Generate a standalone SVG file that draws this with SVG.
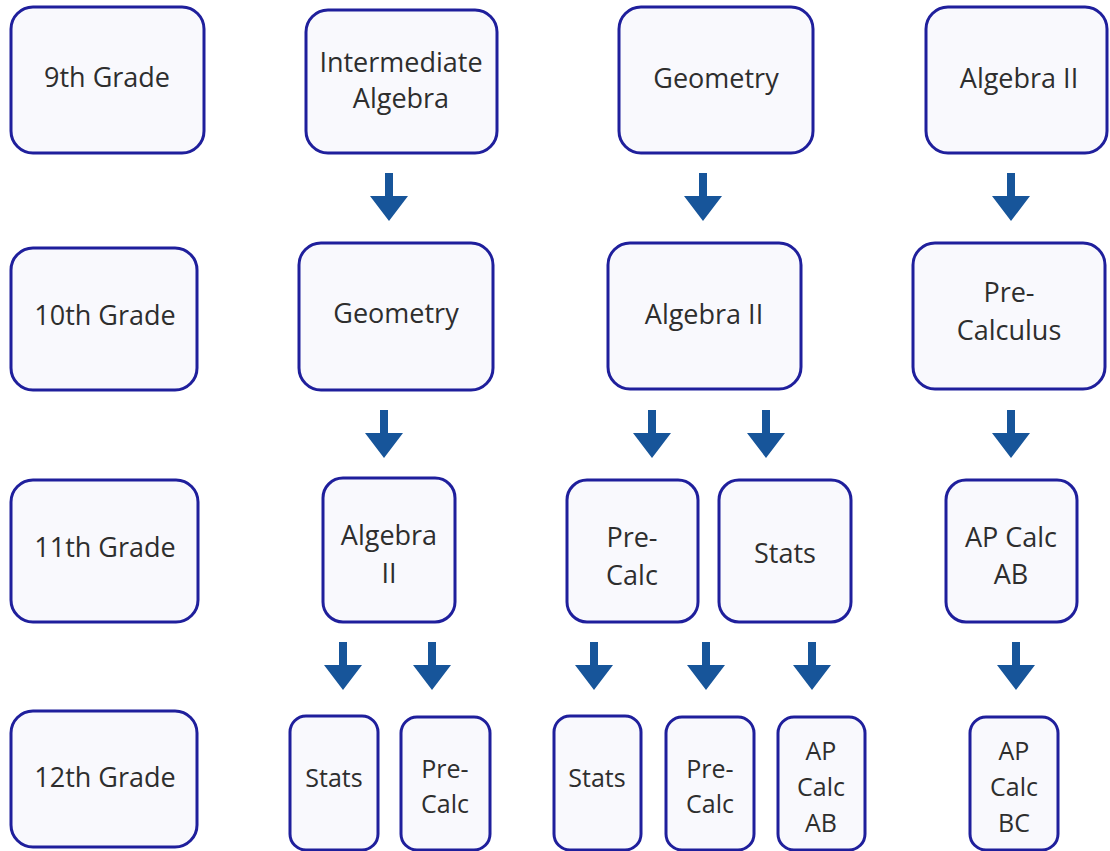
<svg xmlns="http://www.w3.org/2000/svg" xmlns:xlink="http://www.w3.org/1999/xlink" width="1110" height="851" viewBox="0 0 1110 851">
<style>
.box{fill:#f9f9fd;stroke:#1f1f9c;stroke-width:3}
.t{font-family:"Open Sans","Noto Sans","Liberation Sans",sans-serif;font-size:27px;fill:#2e2e2e;text-anchor:middle}
.s{font-size:25px}
.arr{fill:#17559a}
</style>
<defs>
<path id="arr" class="arr" d="M-4,0 H4 V23 H19 L0,48 L-19,23 H-4 Z"/>
</defs>
<rect width="1110" height="851" fill="#ffffff"/>
<g id="connectors">
<use xlink:href="#arr" x="389" y="173"/>
<use xlink:href="#arr" x="703" y="173"/>
<use xlink:href="#arr" x="1011" y="173"/>
<use xlink:href="#arr" x="384" y="410"/>
<use xlink:href="#arr" x="652" y="410"/>
<use xlink:href="#arr" x="766" y="410"/>
<use xlink:href="#arr" x="1011" y="410"/>
<use xlink:href="#arr" x="343" y="642"/>
<use xlink:href="#arr" x="432" y="642"/>
<use xlink:href="#arr" x="594" y="642"/>
<use xlink:href="#arr" x="706" y="642"/>
<use xlink:href="#arr" x="812" y="642"/>
<use xlink:href="#arr" x="1016" y="642"/>
</g>
<g id="grade9"><rect class="box" x="11" y="7" width="193" height="146" rx="22"/><text class="t" x="107" y="87">9th Grade</text></g>
<g id="intalg9"><rect class="box" x="306" y="10" width="191" height="143" rx="22"/><text class="t" x="401" y="72">Intermediate</text><text class="t" x="401" y="108">Algebra</text></g>
<g id="geo9"><rect class="box" x="619" y="7" width="194" height="146" rx="22"/><text class="t" x="716" y="88">Geometry</text></g>
<g id="alg9"><rect class="box" x="926" y="7" width="181" height="146" rx="22"/><text class="t" x="1019" y="88">Algebra II</text></g>

<g id="grade10"><rect class="box" x="11" y="248" width="186" height="142" rx="22"/><text class="t" x="105" y="325">10th Grade</text></g>
<g id="geo10"><rect class="box" x="299" y="243" width="194" height="147" rx="22"/><text class="t" x="396" y="323">Geometry</text></g>
<g id="alg10"><rect class="box" x="608" y="243" width="193" height="146" rx="22"/><text class="t" x="704" y="324">Algebra II</text></g>
<g id="pc10"><rect class="box" x="913" y="243" width="192" height="146" rx="22"/><text class="t" x="1009" y="302">Pre-</text><text class="t" x="1009" y="340">Calculus</text></g>

<g id="grade11"><rect class="box" x="11" y="480" width="187" height="142" rx="22"/><text class="t" x="105" y="557">11th Grade</text></g>
<g id="alg11"><rect class="box" x="323" y="478" width="132" height="144" rx="20"/><text class="t" x="389" y="545">Algebra</text><text class="t" x="389" y="583">II</text></g>
<g id="pc11"><rect class="box" x="567" y="480" width="131" height="142" rx="20"/><text class="t" x="632" y="547">Pre-</text><text class="t" x="632" y="585">Calc</text></g>
<g id="st11"><rect class="box" x="719" y="480" width="132" height="142" rx="20"/><text class="t" x="785" y="563">Stats</text></g>
<g id="ab11"><rect class="box" x="946" y="480" width="131" height="142" rx="20"/><text class="t" x="1011" y="547">AP Calc</text><text class="t" x="1011" y="584">AB</text></g>

<g id="grade12"><rect class="box" x="11" y="711" width="186" height="136" rx="22"/><text class="t" x="105" y="787">12th Grade</text></g>
<g id="st12a"><rect class="box" x="290" y="716" width="88" height="134" rx="16"/><text class="t s" x="334" y="787">Stats</text></g>
<g id="pc12a"><rect class="box" x="401" y="717" width="89" height="133" rx="16"/><text class="t s" x="445" y="778">Pre-</text><text class="t s" x="445" y="813">Calc</text></g>
<g id="st12b"><rect class="box" x="554" y="716" width="87" height="134" rx="16"/><text class="t s" x="597" y="787">Stats</text></g>
<g id="pc12b"><rect class="box" x="666" y="717" width="88" height="133" rx="16"/><text class="t s" x="710" y="778">Pre-</text><text class="t s" x="710" y="813">Calc</text></g>
<g id="ab12"><rect class="box" x="778" y="717" width="87" height="133" rx="16"/><text class="t s" x="821" y="760">AP</text><text class="t s" x="821" y="796">Calc</text><text class="t s" x="821" y="832">AB</text></g>
<g id="bc12"><rect class="box" x="970" y="717" width="88" height="133" rx="16"/><text class="t s" x="1014" y="760">AP</text><text class="t s" x="1014" y="796">Calc</text><text class="t s" x="1014" y="832">BC</text></g>
</svg>
